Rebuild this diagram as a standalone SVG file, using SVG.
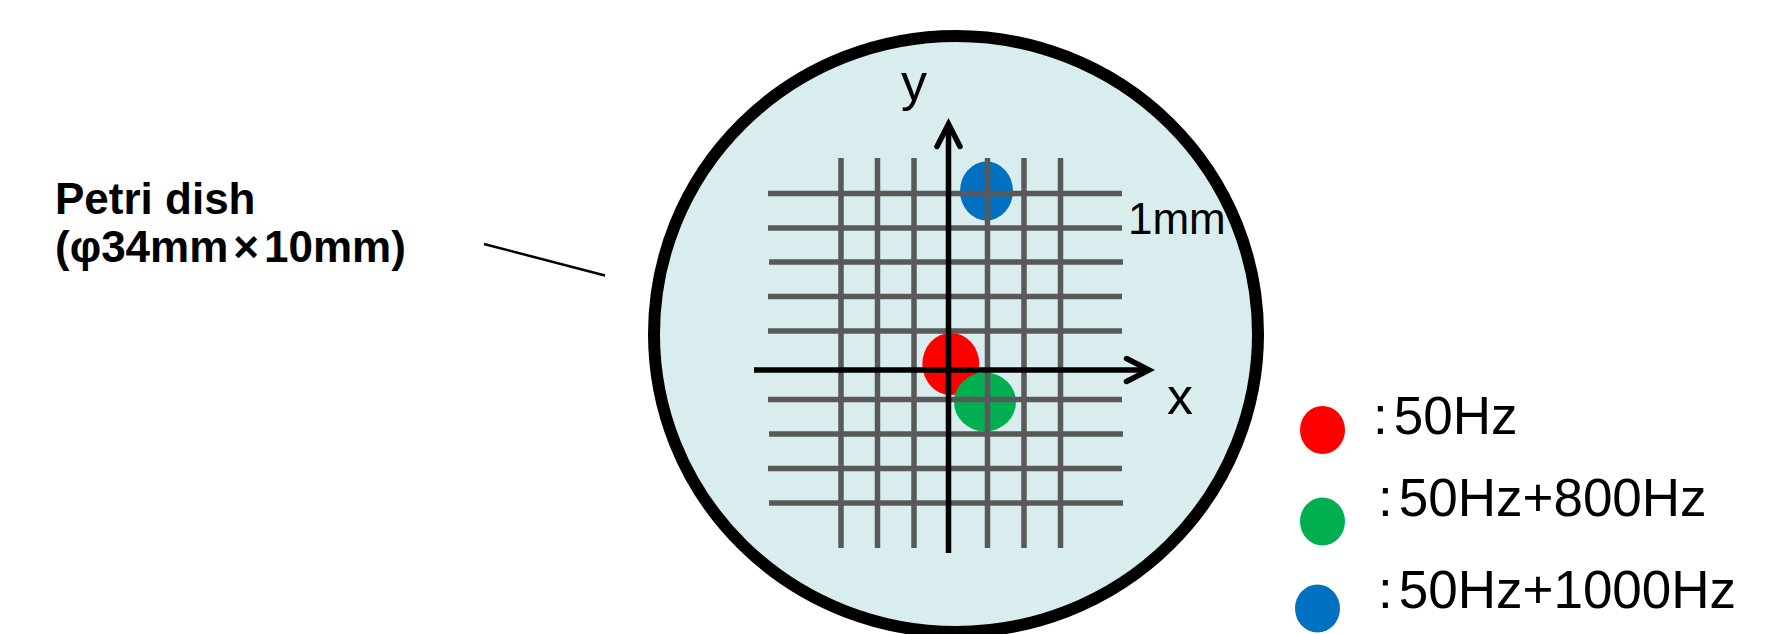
<svg xmlns="http://www.w3.org/2000/svg" width="1777" height="634" viewBox="0 0 1777 634">
<style>
.t{font-family:"Liberation Sans",Arial,"Noto Sans CJK JP",sans-serif;fill:#000}
.b{font-weight:bold}
.grid line{stroke:#595959;stroke-width:5.5}
.axis{stroke:#000;stroke-width:5.5;fill:none;stroke-linecap:butt}
.head{stroke:#000;stroke-width:5.5;fill:none;stroke-linecap:round;stroke-linejoin:miter}
</style>
<rect width="1777" height="634" fill="#fff"/>
<g id="label">
<text class="t b" x="55" y="214" font-size="44">Petri dish</text>
<text class="t b" x="55" y="262" font-size="44">(φ34mm<tspan dx="5">×</tspan><tspan dx="5">10mm)</tspan></text>
</g>
<g id="connectors">
<line x1="484" y1="244" x2="605" y2="275.5" stroke="#000" stroke-width="2.5"/>
</g>
<g id="dish">
<ellipse cx="956" cy="334" rx="302" ry="298" fill="#DAEDEE" stroke="#000" stroke-width="12"/>
<ellipse cx="950.8" cy="364" rx="28.5" ry="31" fill="#FF0000"/>
<ellipse cx="985" cy="402" rx="31" ry="29.5" fill="#00B050"/>
<ellipse cx="986.5" cy="191" rx="26.5" ry="29.5" fill="#0070C0"/>
<g class="grid">
<line x1="841" y1="158" x2="841" y2="548"/>
<line x1="877.5" y1="158" x2="877.5" y2="548"/>
<line x1="914" y1="158" x2="914" y2="548"/>
<line x1="987.5" y1="158" x2="987.5" y2="548"/>
<line x1="1024" y1="158" x2="1024" y2="548"/>
<line x1="1060.5" y1="158" x2="1060.5" y2="548"/>
<line x1="768" y1="193.5" x2="1122" y2="193.5"/>
<line x1="768" y1="228" x2="1122" y2="228"/>
<line x1="769" y1="262" x2="1123" y2="262"/>
<line x1="768" y1="296.5" x2="1122" y2="296.5"/>
<line x1="768" y1="331" x2="1122" y2="331"/>
<line x1="768" y1="399.5" x2="1122" y2="399.5"/>
<line x1="769" y1="434" x2="1123" y2="434"/>
<line x1="768" y1="468.5" x2="1122" y2="468.5"/>
<line x1="769" y1="503" x2="1123" y2="503"/>
</g>
<line class="axis" x1="948.5" y1="553" x2="948.5" y2="127"/>
<polyline class="head" points="937,146.5 948.5,124 960,146.5"/>
<line class="axis" x1="754" y1="370" x2="1146" y2="370"/>
<polyline class="head" points="1126.5,358.5 1149,370 1126.5,381.5"/>
<text class="t" x="901" y="100" font-size="52">y</text>
<text class="t" x="1167" y="414" font-size="52">x</text>
<text class="t" x="1128" y="234" font-size="44">1mm</text>
</g>
<g id="legend">
<ellipse cx="1322.5" cy="430" rx="22.5" ry="24" fill="#FF0000"/>
<ellipse cx="1322.5" cy="521.5" rx="22.5" ry="24" fill="#00B050"/>
<ellipse cx="1317.5" cy="608.5" rx="22.5" ry="24" fill="#0070C0"/>
<text class="t" x="1373" y="434" font-size="53">:<tspan dx="6">50Hz</tspan></text>
<text class="t" x="1378" y="516" font-size="53">:<tspan dx="6">50Hz+800Hz</tspan></text>
<text class="t" x="1378" y="608" font-size="53">:<tspan dx="6">50Hz+1000Hz</tspan></text>
</g>
</svg>
